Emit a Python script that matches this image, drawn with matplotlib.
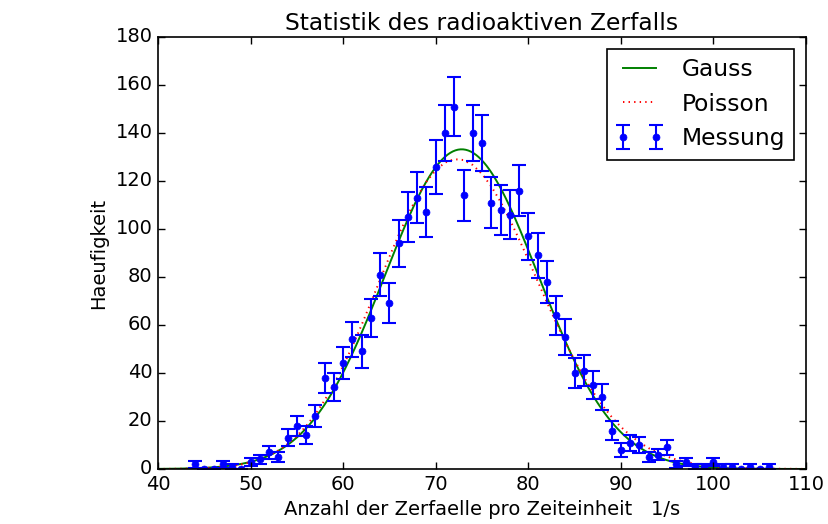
import matplotlib
matplotlib.use('Agg')
import matplotlib.pyplot as plt
import numpy as np
from math import lgamma

plt.style.use('classic')

# counts per time interval (Messung)
counts_x = [44, 45, 46, 47, 48, 49, 50, 51, 52, 53, 54, 55, 56, 57, 58, 59,
            60, 61, 62, 63, 64, 65, 66, 67, 68, 69, 70, 71, 72, 73, 74, 75,
            76, 77, 78, 79, 80, 81, 82, 83, 84, 85, 86, 87, 88, 89, 90, 91,
            92, 93, 94, 95, 96, 97, 98, 99, 100, 101, 102, 103, 104, 105, 106]
counts_y = [2, 0, 0, 2, 1, 0, 3, 4, 7, 5, 13, 18, 14, 22, 38, 34,
            44, 54, 49, 63, 81, 69, 94, 105, 113, 107, 126, 140, 151, 114, 140, 136,
            111, 108, 106, 116, 97, 89, 78, 64, 55, 40, 41, 35, 30, 16, 8, 11,
            10, 5, 6, 9, 2, 3, 1, 1, 3, 1, 1, 0, 1, 0, 1]

# fit parameters
gauss_amp = 133.2
gauss_mu = 72.8
gauss_sigma = 8.27
poisson_mu = 72.8
poisson_n = 2761

x_min, x_max = 40, 110

counts_x = np.array(counts_x)
counts_y = np.array(counts_y, dtype=float)
errors = np.sqrt(counts_y)

x_fine = np.linspace(x_min, x_max, 500)
gauss = gauss_amp * np.exp(-(x_fine - gauss_mu) ** 2 / (2 * gauss_sigma ** 2))

k = np.arange(x_min, x_max + 1)
poisson = np.array([poisson_n * np.exp(kk * np.log(poisson_mu) - poisson_mu - lgamma(kk + 1)) for kk in k])

fig = plt.figure(figsize=(8.29, 5.24), dpi=100, facecolor='white')
ax = fig.add_axes([0.1906, 0.105, 0.7817, 0.8244])

l1, = ax.plot(x_fine, gauss, 'g-', lw=1.4, label='Gauss')
l2, = ax.plot(k, poisson, 'r:', lw=1.4, label='Poisson')
eb = ax.errorbar(counts_x, counts_y, yerr=errors, fmt='bo', ms=5, mec='b',
                 ecolor='b', elinewidth=1.5, capsize=5, capthick=1.5, label='Messung')

ax.set_xlim(x_min, x_max)
ax.set_ylim(0, 180)
ax.set_xticks(np.arange(40, 111, 10))
ax.set_yticks(np.arange(0, 181, 20))
ax.tick_params(labelsize=14, length=5, width=1)
for sp in ax.spines.values():
    sp.set_linewidth(1.2)

ax.set_title('Statistik des radioaktiven Zerfalls', fontsize=16.8)
ax.set_xlabel('Anzahl der Zerfaelle pro Zeiteinheit   1/s', fontsize=14)
ax.set_ylabel('Haeufigkeit', fontsize=14)

leg = ax.legend(handles=[l1, l2, eb], loc='upper right', numpoints=2, fontsize=16.8)
leg.get_frame().set_linewidth(1.2)

fig.savefig('out.png', dpi=100, facecolor='white')
plt.close()
